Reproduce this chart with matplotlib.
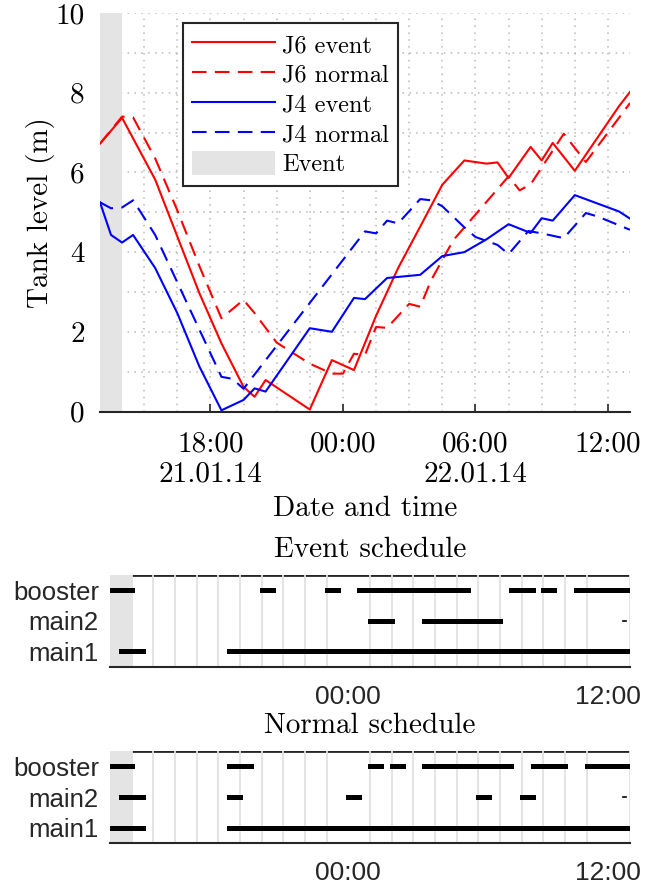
import numpy as np
import matplotlib
matplotlib.use('Agg')
import matplotlib.pyplot as plt
from matplotlib.patches import Patch

plt.rcParams['mathtext.fontset'] = 'cm'
plt.rcParams['axes.formatter.use_mathtext'] = True

SERIF = 'cmr10'
SANS = 'Liberation Sans'

# hours after 21.01.14 13:00
j6_event_t = [0, 1.0, 2.5, 4.5, 5.5, 6.5, 7.0, 7.5, 9.5, 10.5, 11.5, 12.5, 13.5, 14.5,
              15.5, 16.5, 17.5, 18.0, 18.5, 19.5, 20.0, 20.5, 21.5, 23.5, 24.0]
j6_event_v = [6.72, 7.37, 5.82, 2.97, 1.71, 0.62, 0.37, 0.79, 0.05, 1.29, 1.04, 2.4, 3.6, 4.64,
              5.69, 6.3, 6.22, 6.25, 5.86, 6.64, 6.3, 6.74, 6.04, 7.66, 8.02]

j6_normal_t = [0, 1.0, 1.5, 2.5, 3.5, 4.5, 5.5, 6.5, 7.0, 8.0, 9.5, 10.5, 11.0, 11.5, 12.0,
               12.5, 13.0, 14.0, 14.5, 15.0, 16.0, 18.5, 19.0, 19.5, 21.0, 22.0, 24.0]
j6_normal_v = [6.72, 7.4, 7.38, 6.35, 5.05, 3.65, 2.34, 2.8, 2.47, 1.73, 1.2, 0.95, 0.95, 1.45, 1.42,
               2.12, 2.1, 2.7, 2.63, 3.3, 4.3, 5.9, 5.55, 5.7, 6.97, 6.26, 7.74]

j4_event_t = [0, 0.5, 1.0, 1.5, 2.5, 3.5, 4.5, 5.5, 6.5, 7.0, 7.5, 9.5, 10.5, 11.5, 12.0, 13.0,
              14.5, 15.5, 16.5, 17.5, 18.5, 19.5, 20.0, 20.5, 21.5, 23.5, 24.0]
j4_event_v = [5.25, 4.43, 4.24, 4.43, 3.6, 2.47, 1.13, 0.03, 0.29, 0.58, 0.5, 2.09, 2.0, 2.85, 2.82, 3.35,
              3.43, 3.9, 4.0, 4.32, 4.7, 4.48, 4.85, 4.79, 5.43, 5.02, 4.84]

j4_normal_t = [0, 0.5, 1.0, 1.5, 2.5, 5.5, 6.0, 6.5, 12.0, 12.5, 13.0, 13.5, 14.5, 15.0, 15.5,
               16.5, 17.0, 18.0, 18.5, 19.4, 20.0, 21.0, 22.0, 22.5, 24.0]
j4_normal_v = [5.25, 5.1, 5.12, 5.3, 4.43, 0.87, 0.82, 0.57, 4.52, 4.47, 4.79, 4.72, 5.33, 5.3, 5.15,
               4.62, 4.38, 4.18, 3.95, 4.53, 4.47, 4.35, 4.98, 4.9, 4.56]

event_span = (0, 1.0)

pumps = ['main1', 'main2', 'booster']
event_schedule = {
    'booster': [(0, 1), (7, 7.5), (10, 10.5), (11.5, 16.5), (18.5, 19.5), (20, 20.5), (21.5, 24)],
    'main2': [(12, 13), (14.5, 18)],
    'main1': [(0.5, 1.5), (5.5, 24)],
}
normal_schedule = {
    'booster': [(0, 1), (5.5, 6.5), (12, 12.5), (13, 13.5), (14.5, 18.5), (19.5, 21), (22, 24)],
    'main2': [(0.5, 1.5), (5.5, 6), (11, 11.5), (17, 17.5), (19, 19.5)],
    'main1': [(0, 1.5), (5.5, 24)],
}
blip = 23.75  # tiny main2 mark at the end of both schedules

top_ticks = [5, 11, 17, 23]
top_ticklabels = ['18:00\n21.01.14', '00:00', '06:00\n22.01.14', '12:00']
sched_ticks = [11, 23]
sched_ticklabels = ['00:00', '12:00']

fig = plt.figure(figsize=(6.56, 8.84), dpi=100)

# ---- tank levels
ax = fig.add_axes([0.1524, 0.5345, 0.808, 0.4508])
ax.axvspan(*event_span, color='#e4e4e4', lw=0, zorder=0.6)
dash = (0, (7, 4))
l1, = ax.plot(j6_event_t, j6_event_v, color='#ff0000', lw=1.5)
l2, = ax.plot(j6_normal_t, j6_normal_v, color='#ff0000', lw=1.5, linestyle=dash)
l3, = ax.plot(j4_event_t, j4_event_v, color='#0000ff', lw=1.5)
l4, = ax.plot(j4_normal_t, j4_normal_v, color='#0000ff', lw=1.5, linestyle=dash)

ax.set_xlim(0, 24)
ax.set_ylim(0, 10)
ax.set_xticks(top_ticks)
ax.set_xticklabels(top_ticklabels, fontfamily=SERIF, fontsize=21, linespacing=1.2)
ax.set_yticks(range(0, 11, 2))
ax.set_yticklabels([str(v) for v in range(0, 11, 2)], fontfamily=SERIF, fontsize=21)
ax.set_xticks(np.arange(0.5, 24.1, 1.5), minor=True)
ax.set_yticks(range(0, 11), minor=True)
ax.tick_params(which='major', direction='in', length=6, width=1.2, color='#262626', pad=14)
ax.tick_params(which='minor', length=0)
ax.tick_params(axis='y', length=0, pad=11)
ax.grid(which='both', color='#b8b8b8', linestyle=(0, (1, 3.5)), lw=1.1)
ax.set_axisbelow(True)
for s in ['top', 'right', 'left']:
    ax.spines[s].set_visible(False)
ax.spines['bottom'].set_color('#262626')
ax.spines['bottom'].set_linewidth(1.5)
ax.set_xlabel('Date and time', fontfamily=SERIF, fontsize=21, labelpad=6)
ax.set_ylabel('Tank level (m)', fontfamily=SERIF, fontsize=21, labelpad=0)

leg = ax.legend([l1, l2, l3, l4, Patch(facecolor='#e4e4e4', edgecolor='none')],
                ['J6 event', 'J6 normal', 'J4 event', 'J4 normal', 'Event'],
                loc='upper left', bbox_to_anchor=(0.157, 0.975), prop={'family': SERIF, 'size': 17.5},
                fancybox=False, framealpha=1, edgecolor='#262626', handlelength=3.4,
                handleheight=1.1, labelspacing=0.2, borderpad=0.38, handletextpad=0.3,
                borderaxespad=0)
leg.get_frame().set_linewidth(1.5)


def schedule(ax, sched, title):
    ax.set_xlim(0, 24)
    ax.set_ylim(0.5, 3.5)
    ax.axhline(3.5, color='#262626', lw=2, zorder=0.4)
    ax.axvspan(*event_span, color='#e4e4e4', lw=0, zorder=0.6)
    for y, name in enumerate(pumps, start=1):
        for a, b in sched[name]:
            ax.plot([a, b], [y, y], color='black', lw=3.6, solid_capstyle='projecting', zorder=3)
    ax.plot([blip - 0.06, blip + 0.06], [2, 2], color='black', lw=1.2, zorder=3)
    ax.set_yticks([1, 2, 3])
    ax.set_yticklabels(pumps, fontfamily=SANS, fontsize=18.5, color='#262626')
    ax.set_xticks(sched_ticks)
    ax.set_xticklabels(sched_ticklabels, fontfamily=SANS, fontsize=19, color='#262626')
    ax.set_xticks(np.arange(0, 24.1, 1), minor=True)
    ax.tick_params(which='both', length=0)
    ax.tick_params(axis='x', pad=13)
    ax.tick_params(axis='y', pad=8)
    ax.grid(which='minor', axis='x', color='#e2e2e2', lw=1.3, zorder=0.5)
    ax.set_axisbelow(True)
    for s in ['top', 'right', 'left']:
        ax.spines[s].set_visible(False)
    ax.spines['bottom'].set_color('#262626')
    ax.spines['bottom'].set_linewidth(1.5)
    ax.set_title(title, fontfamily=SERIF, fontsize=21, pad=13)


ax2 = fig.add_axes([0.1677, 0.2458, 0.7927, 0.1037])
schedule(ax2, event_schedule, 'Event schedule')
ax3 = fig.add_axes([0.1677, 0.0460, 0.7927, 0.1048])
schedule(ax3, normal_schedule, 'Normal schedule')

fig.savefig('out.png', dpi=100)
